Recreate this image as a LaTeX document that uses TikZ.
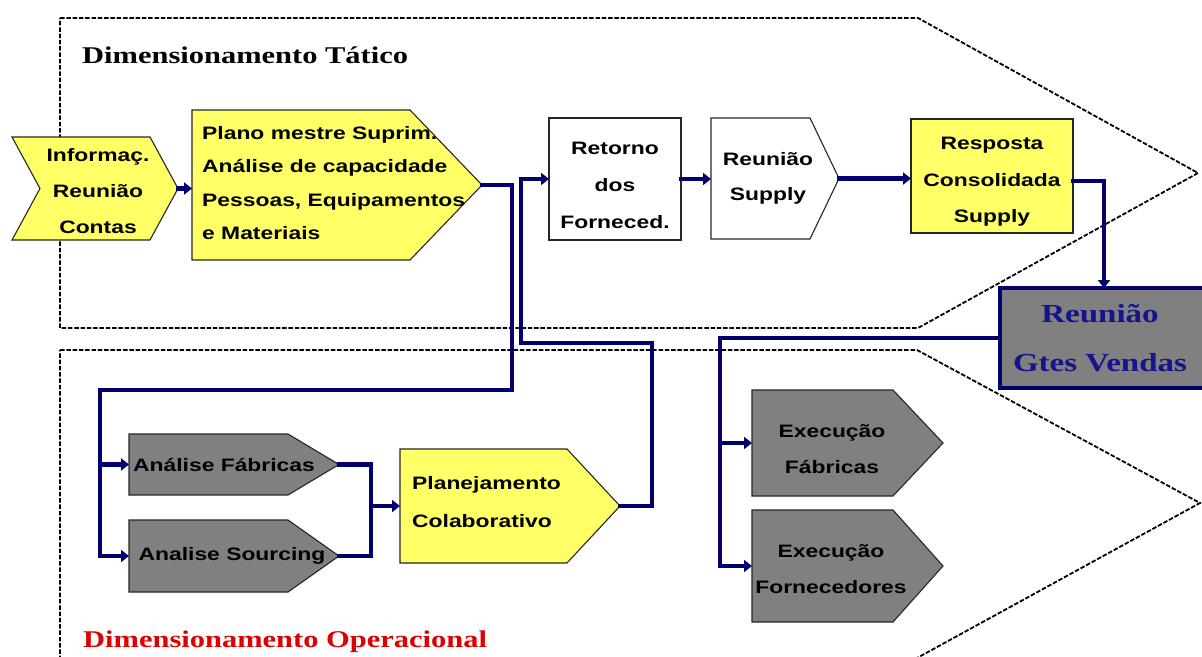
\documentclass[tikz,border=0pt]{standalone}
\usepackage{fontspec}
\setmainfont{Liberation Serif}[FakeStretch=1.27]
\newfontfamily\arfont{Liberation Sans}[FakeStretch=1.27]
\usetikzlibrary{calc,arrows.meta}
\definecolor{navy}{RGB}{0,0,110}
\definecolor{boxyellow}{RGB}{255,255,102}
\definecolor{boxgray}{RGB}{128,128,128}
\definecolor{gtesblue}{RGB}{20,20,140}
\definecolor{titlered}{RGB}{222,0,0}
\tikzset{
 panel/.style={draw=black, line width=1.8pt, dash pattern=on 4.5pt off 1.8pt},
 body/.style={rectangle, inner sep=0pt, outer sep=0pt},
 yfill/.style={fill=boxyellow, draw=black!85, line width=1.1pt},
 gfill/.style={fill=boxgray, draw=black!85, line width=1.1pt},
 wfill/.style={fill=white, draw=black!85, line width=1.1pt},
 btxt/.style={font=\arfont\bfseries\fontsize{18}{36}\selectfont, align=center, inner sep=0pt},
 ttl/.style={font=\bfseries\fontsize{24}{28}\selectfont, inner sep=0pt, anchor=base west},
 line/.style={draw=navy, line width=4.6pt, line cap=rect},
 flow/.style={line, -{Triangle[length=8pt,width=12pt]}},
}
\newcommand\pentpath[3]{\path[#3] (#1.north west) -- (#1.north east) -- ($(#1.east)+(#2,0)$) coordinate (#1-tip) -- (#1.south east) -- (#1.south west) -- cycle;}
\begin{document}
\begin{tikzpicture}[x=1pt,y=-1pt]
\useasboundingbox (0,0) rectangle (1202,656);
\clip (0,0) rectangle (1202,656);
% panels
\path[panel] (60,18) -- (918,18) -- (1198,173) -- (918,328) -- (60,328) -- cycle;
\path[panel] (60,350) -- (917,350) -- (1200,503) -- (917,658) -- (60,658) -- cycle;
\node[ttl] (ttat) at (82,63) {Dimensionamento Tático};
\node[ttl, text=titlered] (top) at (83,647) {Dimensionamento Operacional};
% body nodes
\node[body, minimum width=138pt, minimum height=103pt] (info) at (81,188.5) {};
\node[body, minimum width=218pt, minimum height=150pt] (plano) at (301,185) {};
\node[body, minimum width=132pt, minimum height=122pt] (retorno) at (615,179) {};
\node[body, minimum width=99pt, minimum height=121pt] (rsupply) at (760.5,178.5) {};
\node[body, minimum width=162pt, minimum height=114pt] (resposta) at (992,176) {};
\node[body, minimum width=159pt, minimum height=61pt] (fab) at (208.5,464.5) {};
\node[body, minimum width=159pt, minimum height=72pt] (src) at (208.5,556) {};
\node[body, minimum width=167pt, minimum height=114pt] (plan) at (483.5,506) {};
\node[body, minimum width=141pt, minimum height=106pt] (exf) at (822.5,443) {};
\node[body, minimum width=141pt, minimum height=112pt] (exo) at (822.5,566) {};
% shapes
\path[yfill] (info.north west) -- (info.north east) -- ($(info.east)+(28,0)$) coordinate (info-tip) -- (info.south east) -- (info.south west) -- ($(info.west)+(28,0)$) -- cycle;
\pentpath{plano}{72}{yfill}
\path[wfill] (retorno.north west) rectangle (retorno.south east);
\pentpath{rsupply}{29}{wfill}
\path[yfill] (resposta.north west) rectangle (resposta.south east);
\pentpath{fab}{51}{gfill}
\pentpath{src}{51}{gfill}
\pentpath{plan}{53}{yfill}
\pentpath{exf}{50}{gfill}
\pentpath{exo}{50}{gfill}
\node[body, minimum width=208pt, minimum height=100pt, fill=boxgray, draw=navy, line width=4pt] (gtes) at (1104,338) {};
% texts
\node[btxt] (info-t) at (98,191) {Informaç.\\Reunião\\Contas};
\node[btxt, align=left, anchor=west, font=\arfont\bfseries\fontsize{18}{33.3}\selectfont] (plano-t) at (202,183) {Plano mestre Suprim.\\Análise de capacidade\\Pessoas, Equipamentos\\e Materiais};
\node[btxt, font=\arfont\bfseries\fontsize{18}{37}\selectfont] (retorno-t) at (615,185) {Retorno\\dos\\Forneced.};
\node[btxt, font=\arfont\bfseries\fontsize{18}{35}\selectfont] (rsupply-t) at (768,178) {Reunião\\Supply};
\node[btxt, font=\arfont\bfseries\fontsize{18}{36.5}\selectfont] (resposta-t) at (992,182) {Resposta\\Consolidada\\Supply};
\node[btxt] (fab-t) at (224,465) {Análise Fábricas};
\node[btxt] (src-t) at (232,556) {Analise Sourcing};
\node[btxt, align=left, anchor=west, font=\arfont\bfseries\fontsize{18}{38}\selectfont] (plan-t) at (412,502) {Planejamento\\Colaborativo};
\node[btxt] (exf-t) at (832,449) {Execução\\Fábricas};
\node[btxt] (exo-t) at (831,569) {Execução\\Fornecedores};
\node[inner sep=0pt, font=\bfseries\fontsize{26}{49}\selectfont, text=gtesblue, align=center] (gtes-t) at (1100,338) {Reunião\\Gtes Vendas};
% connectors
\coordinate (l1) at (512,390);
\coordinate (busL) at (100,390);
\coordinate (r1) at (652,343);
\coordinate (r2) at (521,343);
\coordinate (jm) at (371,506);
\coordinate (busR) at (720,338);
\draw[flow] (info-tip) -- (info-tip -| plano.west);
\draw[line] (plano-tip) -| (l1) -- (busL);
\draw[flow] (busL) |- (fab.west);
\draw[flow] (busL) |- (src.west);
\draw[line] (fab-tip) -| (jm);
\draw[line] (src-tip) -| (jm);
\draw[flow] (jm) -- (plan.west);
\draw[flow] (plan-tip) -| (r1) -- (r2) |- (retorno.west);
\draw[flow] (retorno.east) -- (retorno.east -| rsupply.west);
\draw[flow] (rsupply-tip) -- (rsupply-tip -| resposta.west);
\draw[flow] ([yshift=-5pt]resposta.east) -| (gtes.north);
\draw[line] (gtes.west) -- (busR);
\draw[flow] (busR) |- (exf.west);
\draw[flow] (busR) |- (exo.west);
\end{tikzpicture}
\end{document}
